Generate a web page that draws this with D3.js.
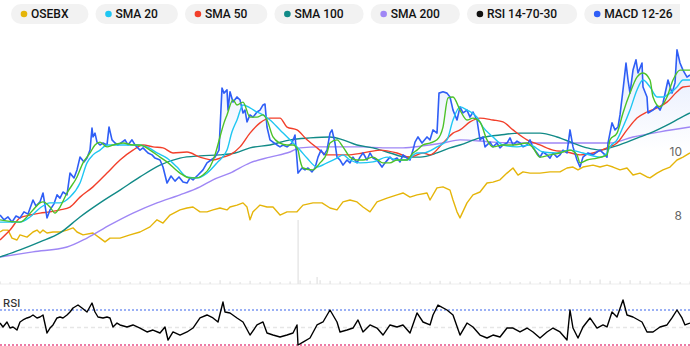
<!DOCTYPE html>
<html><head><meta charset="utf-8">
<script src="https://cdn.jsdelivr.net/npm/d3@7"></script>
<style>
html,body{margin:0;padding:0;background:#fff;}
svg{display:block;font-family:Inter,"Noto Sans",sans-serif;}
</style></head>
<body><svg id="c" width="690" height="346"></svg>
<script>
// ---- legend ----
const legendLabels = ["OSEBX","SMA 20","SMA 50","SMA 100","SMA 200","RSI 14-70-30","MACD 12-26"];
const legendColors = ["#e5b50a","#1ec6f2","#f23f2a","#118a87","#9f87f5","#111111","#2f5ef6"];

// ---- series: [trading day, value] ----
const price = [[0,8.03],[4,7.88],[8,7.97],[12,7.81],[16,8.0],[20,7.94],[24,8.13],[28,8.06],[33,8.5],[36,8.31],[40,8.44],[43,8.72],[47,7.94],[50,8.19],[54,8.38],[57,8.66],[60,8.56],[63,8.75],[67,8.66],[70,9.34],[74,9.19],[77,9.44],[80,9.84],[84,9.69],[87,9.81],[90,10.06],[92,10.75],[93,10.47],[95,10.59],[97,10.31],[100,10.22],[103,10.28],[107,10.22],[109,10.78],[112,10.38],[115,10.28],[118,10.22],[122,10.31],[125,10.38],[128,10.22],[132,10.38],[135,10.22],[140,10.06],[143,10.13],[148,9.97],[152,9.91],[155,9.81],[160,9.75],[163,9.53],[167,9.03],[171,9.25],[175,9.09],[179,9.22],[183,9.06],[187,9.03],[190,9.19],[193,9.13],[198,9.28],[203,9.44],[207,9.66],[211,9.75],[215,9.84],[219,10.06],[222,12.0],[224,11.84],[227,11.94],[228,11.31],[230,11.88],[233,11.56],[237,11.72],[240,11.63],[243,11.22],[245,11.31],[247,10.94],[250,11.16],[253,11.09],[257,11.25],[260,11.31],[263,11.47],[265,11.5],[267,10.78],[270,10.38],[273,10.31],[277,10.22],[280,10.16],[283,10.22],[287,10.16],[292,10.28],[295,10.53],[297,9.75],[298,9.34],[302,9.5],[305,9.44],[308,9.5],[312,9.38],[315,9.5],[318,9.84],[321,10.06],[324,9.91],[327,10.06],[330,10.59],[332,10.69],[335,10.28],[337,9.84],[340,9.75],[343,9.59],[347,9.75],[350,9.66],[353,9.84],[357,9.66],[360,9.84],[363,9.97],[367,9.75],[370,9.97],[373,9.81],[377,9.75],[382,9.53],[385,9.66],[390,9.84],[393,9.75],[397,9.81],[400,9.69],[403,9.91],[407,9.81],[410,9.75],[413,10.06],[415,10.31],[418,10.47],[422,10.28],[427,10.47],[430,10.38],[433,10.69],[437,10.59],[439,11.84],[443,11.88],[447,11.84],[450,11.72],[453,11.31],[457,11.0],[460,11.41],[463,11.22],[467,11.31],[470,11.09],[473,11.25],[477,11.0],[480,10.38],[483,10.47],[485,10.16],[490,10.31],[493,10.16],[497,10.28],[500,10.13],[503,10.22],[507,10.28],[510,10.44],[513,10.22],[517,10.34],[520,10.28],[523,10.16],[527,10.22],[530,10.38],[533,10.13],[537,9.97],[540,9.84],[543,10.0],[547,9.91],[550,9.81],[553,9.97],[557,9.84],[560,9.91],[563,10.06],[567,9.97],[570,10.69],[573,10.16],[577,9.75],[580,9.53],[583,9.84],[588,9.97],[593,9.91],[597,10.0],[600,10.06],[604,9.94],[607,9.84],[608,10.28],[612,10.91],[615,10.69],[618,10.78],[620,11.16],[623,11.94],[626,12.78],[628,12.25],[630,11.84],[633,12.56],[636,12.88],[638,12.47],[642,12.78],[643,12.03],[647,11.72],[648,11.22],[653,11.31],[657,11.44],[660,11.31],[663,11.53],[668,12.25],[672,11.84],[675,12.16],[677,13.19],[680,12.78],[683,12.56],[687,12.34],[690,12.41]];

const sma10 = [[0,7.88],[20,7.81],[33,8.19],[40,8.41],[43,8.44],[50,8.28],[55,8.09],[60,8.28],[67,8.72],[77,9.22],[83,9.66],[90,9.97],[95,10.22],[100,10.31],[107,10.16],[113,10.22],[123,10.28],[133,10.22],[140,10.22],[150,10.06],[160,9.84],[167,9.69],[180,9.34],[190,9.19],[197,9.19],[203,9.28],[210,9.53],[215,9.91],[220,10.47],[224,10.91],[227,11.16],[233,11.63],[237,11.47],[243,11.56],[250,11.09],[257,11.09],[263,11.16],[267,11.0],[273,10.47],[280,10.28],[287,10.22],[293,10.22],[298,10.06],[300,9.75],[303,9.5],[313,9.44],[320,9.66],[327,9.97],[330,10.28],[337,10.38],[343,10.16],[350,9.84],[357,9.75],[363,9.75],[373,9.84],[383,9.66],[390,9.66],[397,9.75],[407,9.75],[413,9.97],[417,10.06],[423,10.22],[430,10.28],[437,10.38],[443,10.78],[448,11.69],[453,11.72],[460,11.31],[467,11.0],[473,11.06],[480,10.94],[487,10.38],[493,10.16],[503,10.22],[513,10.22],[527,10.28],[533,10.13],[540,9.84],[550,9.91],[560,9.97],[570,10.06],[577,9.91],[580,9.66],[587,9.75],[597,9.81],[607,9.91],[610,10.38],[617,10.59],[623,11.22],[630,11.84],[637,12.34],[643,12.47],[650,12.25],[653,11.72],[660,11.41],[667,11.72],[673,12.25],[680,12.56],[690,12.56]];

const sma20 = [[0,7.81],[20,7.81],[30,7.97],[40,8.25],[50,8.41],[60,8.41],[70,8.59],[80,9.03],[87,9.66],[93,9.91],[100,10.06],[107,10.22],[117,10.22],[127,10.22],[137,10.22],[147,10.16],[157,9.97],[167,9.81],[177,9.53],[187,9.22],[197,9.19],[207,9.34],[217,9.66],[227,10.06],[232,10.63],[237,11.0],[243,11.47],[250,11.38],[257,11.25],[263,11.16],[270,11.0],[280,10.69],[290,10.38],[300,10.06],[307,9.81],[317,9.53],[327,9.66],[337,9.81],[343,9.91],[350,9.75],[360,9.66],[373,9.69],[387,9.84],[397,9.75],[407,9.75],[417,9.97],[423,9.97],[437,10.16],[447,10.38],[453,11.0],[460,11.41],[467,11.31],[477,11.09],[483,10.78],[493,10.47],[503,10.22],[517,10.16],[530,10.22],[543,10.0],[557,9.97],[570,10.06],[583,9.97],[600,9.84],[607,9.97],[610,10.16],[617,10.38],[623,10.78],[630,11.31],[637,11.94],[643,12.25],[650,12.03],[657,11.72],[663,11.72],[670,11.84],[677,12.03],[683,12.25],[690,12.25]];

const sma50 = [[0,7.25],[10,7.56],[20,7.94],[30,8.03],[40,8.09],[50,8.13],[60,8.19],[70,8.28],[80,8.59],[93,8.91],[107,9.34],[120,9.75],[133,10.06],[143,10.22],[153,10.16],[163,10.13],[173,9.97],[187,10.0],[200,9.84],[213,9.75],[223,9.84],[230,9.91],[240,10.16],[250,10.59],[260,10.91],[270,11.06],[280,11.06],[287,10.78],[297,10.69],[307,10.38],[317,10.13],[327,9.91],[347,9.91],[363,9.97],[380,10.06],[397,9.97],[410,9.84],[423,9.97],[430,9.91],[443,10.28],[453,10.59],[460,10.69],[470,10.94],[480,11.06],[493,11.0],[503,10.94],[513,10.69],[527,10.38],[540,10.22],[553,10.06],[567,10.0],[580,9.91],[593,9.97],[607,10.13],[617,10.28],[627,10.69],[637,11.06],[647,11.25],[657,11.38],[667,11.56],[677,11.88],[683,12.03],[690,12.06]];

const sma100 = [[0,6.72],[20,6.94],[40,7.19],[60,7.47],[80,7.97],[100,8.41],[120,8.81],[140,9.22],[160,9.59],[180,9.81],[200,9.88],[220,9.91],[235,9.97],[250,10.13],[270,10.22],[290,10.38],[310,10.44],[330,10.47],[343,10.38],[357,10.22],[373,10.13],[390,9.97],[407,9.84],[420,9.84],[437,9.97],[450,10.13],[460,10.22],[480,10.44],[500,10.53],[520,10.59],[540,10.59],[557,10.47],[573,10.28],[587,10.13],[600,10.06],[613,10.16],[627,10.31],[640,10.47],[653,10.63],[667,10.84],[680,11.06],[690,11.22]];

const sma200 = [[0,6.72],[33,6.88],[67,7.03],[87,7.31],[110,7.72],[133,8.09],[157,8.41],[180,8.66],[200,8.91],[213,9.13],[230,9.34],[250,9.66],[270,9.84],[290,10.0],[300,10.13],[320,10.16],[340,10.16],[363,10.16],[383,10.13],[403,10.13],[423,10.19],[443,10.28],[460,10.38],[493,10.31],[527,10.28],[560,10.28],[593,10.28],[610,10.28],[633,10.47],[660,10.63],[690,10.78]];

const osebx = [[0,7.5],[3,7.56],[8,7.56],[12,7.31],[17,7.25],[20,7.41],[27,7.34],[33,7.5],[37,7.56],[40,7.47],[43,7.56],[47,7.47],[53,7.5],[60,7.5],[67,7.56],[73,7.63],[77,7.5],[83,7.41],[93,7.47],[100,7.31],[105,7.19],[110,7.31],[120,7.31],[130,7.41],[140,7.5],[150,7.66],[157,7.88],[163,7.78],[170,8.03],[180,8.19],[187,8.25],[193,8.28],[200,8.13],[207,8.13],[213,8.19],[220,8.25],[227,8.19],[230,8.28],[237,8.34],[243,8.41],[247,8.28],[250,7.88],[253,8.13],[260,8.34],[267,8.28],[273,8.28],[280,8.03],[287,8.13],[297,8.13],[303,8.34],[313,8.41],[322,8.41],[330,8.25],[337,8.19],[343,8.44],[350,8.5],[357,8.44],[363,8.28],[370,8.13],[377,8.44],[387,8.56],[397,8.66],[403,8.72],[410,8.59],[417,8.66],[427,8.72],[430,8.5],[437,8.88],[443,8.91],[450,8.81],[453,8.5],[457,8.13],[460,7.94],[467,8.41],[473,8.66],[480,8.75],[487,9.03],[493,9.06],[500,9.13],[507,9.34],[513,9.5],[518,9.28],[523,9.38],[530,9.34],[540,9.34],[550,9.38],[560,9.38],[567,9.5],[573,9.53],[578,9.44],[583,9.53],[593,9.59],[600,9.53],[607,9.59],[613,9.53],[620,9.44],[627,9.5],[633,9.28],[640,9.34],[647,9.22],[650,9.19],[657,9.34],[663,9.44],[670,9.53],[677,9.75],[683,9.84],[690,9.97]];

const rsi = [[0,55.1],[3,50.6],[7,56.3],[10,49.4],[13,50.6],[17,47.1],[20,56.3],[23,58.6],[27,60.9],[30,62],[33,64.3],[37,60.9],[40,62],[43,64.3],[47,43.7],[50,49.4],[53,52.9],[57,60.9],[60,62],[63,60.9],[67,64.3],[70,67.7],[73,72.3],[78,75.7],[82,72.3],[87,67.7],[92,78],[95,67.7],[98,62],[103,60.9],[107,62],[110,60.9],[113,50.6],[117,55.1],[120,52.9],[127,50.6],[133,52.9],[140,49.4],[147,44.9],[153,47.1],[160,43.7],[165,50.6],[168,35.7],[173,44.9],[180,41.4],[187,44.9],[193,49.4],[200,60.9],[207,64.3],[213,60.9],[218,56.3],[223,79.1],[225,67.7],[230,66.6],[237,60.9],[243,56.3],[250,41.4],[257,52.9],[263,56.3],[267,43.7],[273,41.4],[280,39.1],[287,41.4],[293,43.7],[297,52.9],[298,30],[303,33.4],[310,38],[317,52.9],[323,56.3],[330,70],[337,56.3],[340,44.9],[347,47.1],[353,49.4],[358,58.6],[363,44.9],[370,52.9],[377,49.4],[383,41.4],[390,52.9],[397,50.6],[403,52.9],[410,43.7],[417,66.6],[423,56.3],[430,52.9],[433,64.3],[438,75.7],[447,70],[453,64.3],[460,41.4],[467,55.1],[473,50.6],[480,41.4],[487,38],[493,41.4],[500,39.1],[507,49.4],[513,49.4],[520,44.9],[527,49.4],[533,44.9],[540,38],[547,44.9],[553,49.4],[560,44.9],[567,35.7],[570,70],[573,49.4],[578,38],[583,50.6],[590,60.9],[597,49.4],[603,52.9],[607,50.6],[612,67.7],[617,62],[623,81.4],[627,64.3],[633,62],[642,56.3],[647,44.9],[653,44.9],[660,50.6],[667,52.9],[672,60.9],[677,70],[682,60.9],[685,52.9],[690,55.1]];

const volume = [[0,0.4],[10,0.3],[20,0.5],[30,0.3],[40,0.6],[50,0.3],[60,0.4],[70,0.5],[80,0.3],[90,0.7],[100,0.4],[110,0.3],[120,0.5],[130,0.3],[140,0.4],[150,0.3],[160,0.5],[170,0.3],[180,0.4],[190,0.3],[200,0.4],[210,0.3],[220,0.6],[230,0.4],[240,0.3],[250,0.5],[260,0.3],[270,0.4],[280,0.3],[290,0.4],[298,10],[300,0.6],[310,0.5],[317,1.1],[320,0.6],[330,0.5],[340,0.4],[350,0.3],[360,0.4],[370,0.3],[380,0.4],[390,0.3],[400,0.3],[410,0.4],[420,0.3],[430,0.4],[440,0.5],[450,0.4],[460,0.3],[470,0.4],[480,0.3],[490,0.4],[500,0.3],[510,0.4],[520,0.3],[530,0.4],[540,0.3],[550,0.5],[560,0.7],[570,0.8],[580,0.6],[590,0.5],[600,0.7],[610,0.5],[620,0.4],[630,0.6],[640,0.5],[650,0.4],[660,0.3],[670,0.4],[680,0.3],[690,0.4]];

const priceTicks = [8, 10];
const rsiLevels = [70, 50, 30];

// ---- scales ----
const svg = d3.select("#c");
const x = d3.scaleLinear().domain([0, 690]).range([0, 690]);
const y = d3.scaleLinear().domain([8, 10]).range([216, 152]);
const yVol = d3.scaleLinear().domain([0, 10]).range([284, 220]);
const yRsi = d3.scaleLinear().domain([30, 70]).range([345, 310]);

// ---- legend (clipped like a scroll container) ----
const defs = svg.append("defs");
defs.append("clipPath").attr("id", "lgclip").append("rect").attr("x", 0).attr("y", 0).attr("width", 680).attr("height", 30);
const lg = svg.append("g").attr("clip-path", "url(#lgclip)");
let lx = 11;
legendLabels.forEach((lab, i) => {
  const g = lg.append("g");
  const rect = g.append("rect").attr("y", 4).attr("height", 20).attr("rx", 10).attr("fill", "#f2f2f2");
  g.append("circle").attr("cx", lx + 13).attr("cy", 14).attr("r", 3.3).attr("fill", legendColors[i]);
  const t = g.append("text").attr("x", lx + 20).attr("y", 18.3).attr("font-size", 12).attr("font-weight", 500)
    .attr("font-family", "Roboto,'Liberation Sans',sans-serif")
    .attr("fill", "#111").text(lab);
  const w = 20 + t.node().getComputedTextLength() + 20;
  rect.attr("x", lx).attr("width", w);
  lx += w + 7;
});

// ---- volume ----
svg.append("line").attr("x1", 0).attr("x2", 690).attr("y1", yVol(0)).attr("y2", yVol(0))
  .attr("stroke", "#eeeeee").attr("stroke-width", 1);
svg.append("g").selectAll("rect").data(volume).join("rect")
  .attr("x", d => x(d[0]) - 0.5).attr("width", 1.2)
  .attr("y", d => yVol(d[1])).attr("height", d => yVol(0) - yVol(d[1]))
  .attr("fill", "#e2e2e2");

// ---- price gradient area ----
const gr = defs.append("linearGradient").attr("id", "pg").attr("gradientUnits", "userSpaceOnUse")
  .attr("x1", 0).attr("x2", 0).attr("y1", y(13)).attr("y2", y(10));
gr.append("stop").attr("offset", 0).attr("stop-color", "#5b86f7").attr("stop-opacity", 0.16);
gr.append("stop").attr("offset", 1).attr("stop-color", "#5b86f7").attr("stop-opacity", 0);
svg.append("path").datum(price)
  .attr("d", d3.area().x(d => x(d[0])).y0(yVol(0)).y1(d => y(d[1])))
  .attr("fill", "url(#pg)");

// ---- lines ----
const smooth = d3.line().x(d => x(d[0])).y(d => y(d[1])).curve(d3.curveMonotoneX);
const straight = d3.line().x(d => x(d[0])).y(d => y(d[1]));
const draw = (data, color, w, gen) => svg.append("path").datum(data).attr("d", gen)
  .attr("fill", "none").attr("stroke", color).attr("stroke-width", w).attr("stroke-linejoin", "round");

draw(osebx, legendColors[0], 1.4, straight);
draw(sma200, legendColors[4], 1.4, smooth);
draw(sma100, legendColors[3], 1.4, smooth);
draw(sma50, legendColors[2], 1.4, smooth);
draw(price, legendColors[6], 1.6, straight);
draw(sma20, legendColors[1], 1.4, smooth);
draw(sma10, "#4cc228", 1.4, smooth);

// ---- price axis ----
const ax = svg.append("g").attr("transform", "translate(690,0)")
  .call(d3.axisLeft(y).tickValues(priceTicks).tickSize(0).tickPadding(8).tickFormat(d3.format("d")));
ax.select(".domain").remove();
ax.selectAll("text").attr("font-size", 12).attr("fill", "#666").attr("font-family", "Inter,'Noto Sans',sans-serif");

// ---- RSI panel ----
const rsiStyle = {70: ["#7b98f2", "2,2"], 50: ["#e6e6e6", "4,3"], 30: ["#e8508a", "2,2"]};
rsiLevels.forEach(v => {
  svg.append("line").attr("x1", 0).attr("x2", 690).attr("y1", yRsi(v)).attr("y2", yRsi(v))
    .attr("stroke", rsiStyle[v][0]).attr("stroke-width", 1.3).attr("stroke-dasharray", rsiStyle[v][1]);
});
svg.append("text").attr("x", 3).attr("y", 306.5).attr("font-size", 11).attr("font-weight", 500)
  .attr("fill", "#333").text("RSI");
svg.append("path").datum(rsi)
  .attr("d", d3.line().x(d => x(d[0])).y(d => yRsi(d[1])))
  .attr("fill", "none").attr("stroke", "#000").attr("stroke-width", 1.4).attr("stroke-linejoin", "round");
</script></body></html>
